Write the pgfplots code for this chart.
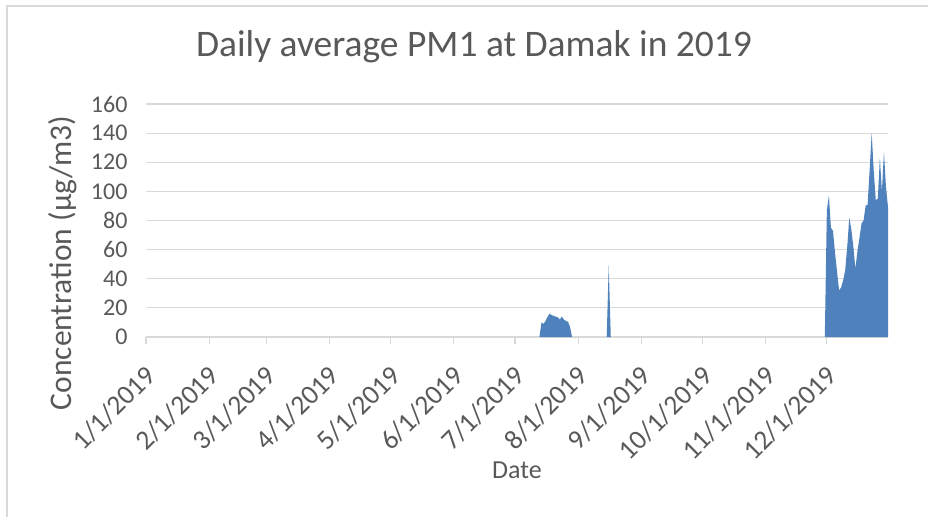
\documentclass[border=0pt]{standalone}
\usepackage{fontspec}
\setmainfont{Carlito}
\usepackage{pgfplots}
\pgfplotsset{compat=1.18}
\definecolor{gridc}{HTML}{D9D9D9}
\definecolor{txt}{HTML}{595959}
\definecolor{fillc}{HTML}{4F81BD}
\begin{document}
\begin{tikzpicture}[x=1pt,y=1pt]
\useasboundingbox (0,0) rectangle (928,517);
\draw[gridc, line width=1.5pt] (7,0) -- (7,511) -- (928,511);
\begin{axis}[
  at={(146pt,180pt)}, anchor=south west,
  scale only axis, width=742pt, height=233pt,
  xmin=0, xmax=364, ymin=0, ymax=160,
  ytick={0,20,...,160},
  xtick={0,31,59,90,120,151,181,212,243,273,304,334},
  xticklabels={1/1/2019,2/1/2019,3/1/2019,4/1/2019,5/1/2019,6/1/2019,7/1/2019,8/1/2019,9/1/2019,10/1/2019,11/1/2019,12/1/2019},
  axis x line*=bottom, axis y line*=left,
  y axis line style={draw=none},
  x axis line style={gridc, line width=1.2pt, -},
  xtick style={gridc, line width=1.2pt},
  ytick style={draw=none},
  tick align=outside, major tick length=7pt,
  ymajorgrids, grid style={gridc, line width=1.2pt},
  /pgf/number format/assume math mode=true,
  tick label style={text=txt},
  yticklabel style={font=\fontsize{24}{28}\selectfont, xshift=-8pt},
  xticklabel style={font=\fontsize{27.5}{32}\selectfont, rotate=45, anchor=north east, xshift=-12pt, yshift=-9pt},
  clip=false,
]
\addplot[draw=none, fill=fillc] coordinates {
(193,0)(194,10)(195,9)(196,11)(197,14)(198,16)(199,15)(200,14.5)(201,14)(202,13.5)(203,12)(204,14)(205,12)(206,11)(207,10.5)(208,7)(209,0)
} \closedcycle;
\addplot[draw=none, fill=fillc] coordinates {
(226,0)(227,49)(228,0)
} \closedcycle;
\addplot[draw=none, fill=fillc] coordinates {
(333,0)(334,87)(335,97)(336,75)(337,73)(338,58)(339,45)(340,32)(341,34)(342,39)(343,46)(344,62)(345,82)(346,74)(347,62)(348,47)(349,59)(350,68)(351,78)(352,80)(353,90)(354,91)(355,115)(356,140)(357,114)(358,94)(359,95)(360,123)(361,100)(362,127)(363,103)(364,89)
} \closedcycle;
\end{axis}
\node[text=txt, font=\fontsize{37.5}{44}\selectfont] at (474,470) {Daily average PM1 at Damak in 2019};
\node[text=txt, font=\fontsize{31.5}{38}\selectfont, rotate=90] at (63,254) {Concentration (µg/m3)};
\node[text=txt, font=\fontsize{26}{31}\selectfont] at (517,47) {Date};
\end{tikzpicture}
\end{document}
